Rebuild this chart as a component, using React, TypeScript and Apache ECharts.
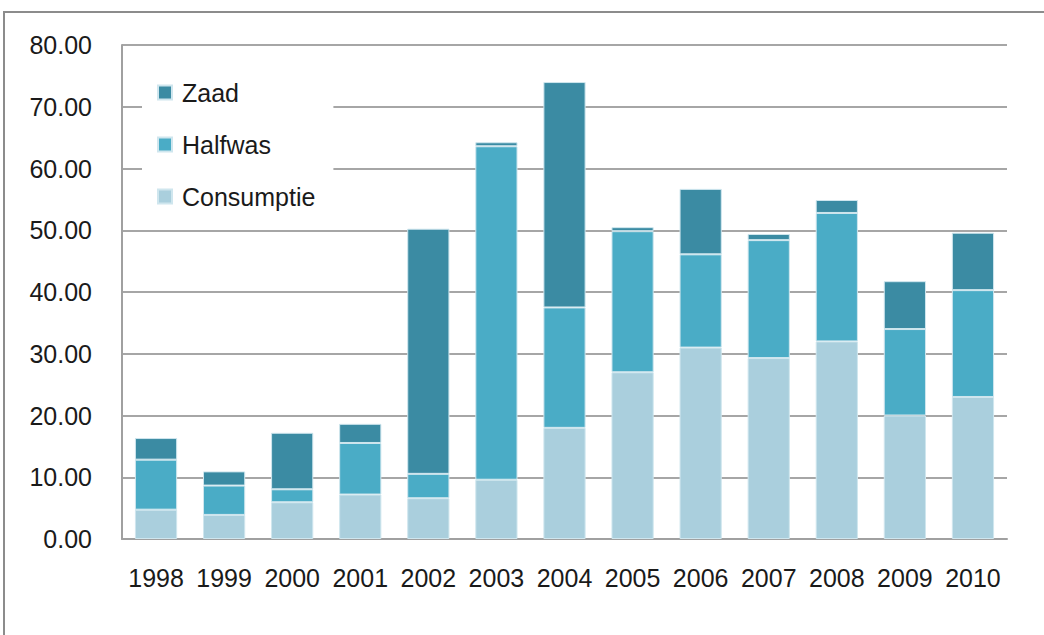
import React, { useEffect, useRef } from "react";
import * as echarts from "echarts";

const years = ["1998", "1999", "2000", "2001", "2002", "2003", "2004", "2005", "2006", "2007", "2008", "2009", "2010"];
// segment heights (not cumulative)
const consumptie = [4.75, 3.9, 5.95, 7.2, 6.6, 9.6, 18.0, 27.0, 31.0, 29.3, 32.0, 20.0, 23.0];
const halfwas = [8.1, 4.75, 2.1, 8.35, 3.95, 54.0, 19.5, 22.85, 15.1, 19.1, 20.8, 14.0, 17.3];
const zaad = [3.5, 2.3, 9.15, 3.1, 39.7, 0.65, 36.5, 0.65, 10.6, 1.0, 2.1, 7.75, 9.3];
const yTicks = { min: 0, max: 80, interval: 10 };

const FONT = "Liberation Sans";

export default function App() {
  const ref = useRef<HTMLDivElement>(null);
  useEffect(() => {
    document.body.style.margin = "0";
    const chart = echarts.init(ref.current!, null, { renderer: "svg" });
    const border = { borderColor: "#cfe6ee", borderWidth: 1 };
    chart.setOption({
      animation: false,
      backgroundColor: "#ffffff",
      grid: { left: 122, right: 37, top: 45, bottom: 96, containLabel: false },
      graphic: [
        {
          type: "rect",
          shape: { x: 4, y: 12, width: 1200, height: 800 },
          style: { fill: "none", stroke: "#8c8c8c", lineWidth: 2 },
          silent: true,
          z: -10,
        },
      ],
      legend: {
        orient: "vertical",
        left: 142,
        top: 60,
        padding: [20, 18, 16, 15],
        backgroundColor: "#ffffff",
        itemWidth: 14,
        itemHeight: 14,
        itemGap: 27,
        icon: "rect",
        data: ["Zaad", "Halfwas", "Consumptie"],
        textStyle: { fontFamily: FONT, fontSize: 25, color: "#1a1a1a", padding: [0, 0, 0, 5] },
        z: 10,
      },
      xAxis: {
        type: "category",
        data: years,
        axisLine: { show: true, lineStyle: { color: "#a0a0a0", width: 2 } },
        axisTick: { show: false },
        axisLabel: { fontFamily: FONT, fontSize: 25, color: "#1a1a1a", margin: 26, interval: 0 },
      },
      yAxis: {
        type: "value",
        min: yTicks.min,
        max: yTicks.max,
        interval: yTicks.interval,
        axisLine: { show: true, lineStyle: { color: "#a0a0a0", width: 2 } },
        axisTick: { show: false },
        splitLine: { show: true, lineStyle: { color: "#a6a6a6", width: 2 } },
        axisLabel: {
          fontFamily: FONT,
          fontSize: 25,
          color: "#1a1a1a",
          margin: 30,
          formatter: (v: number) => v.toFixed(2),
        },
      },
      series: [
        {
          name: "Consumptie",
          type: "bar",
          stack: "total",
          data: consumptie,
          barCategoryGap: "38%",
          itemStyle: { color: "#aacfdd", ...border },
        },
        {
          name: "Halfwas",
          type: "bar",
          stack: "total",
          data: halfwas,
          itemStyle: { color: "#4aacc6", ...border },
        },
        {
          name: "Zaad",
          type: "bar",
          stack: "total",
          data: zaad,
          itemStyle: { color: "#3b8ba3", ...border },
        },
      ],
    });
    return () => chart.dispose();
  }, []);
  return <div ref={ref} style={{ width: 1044, height: 635 }} />;
}
